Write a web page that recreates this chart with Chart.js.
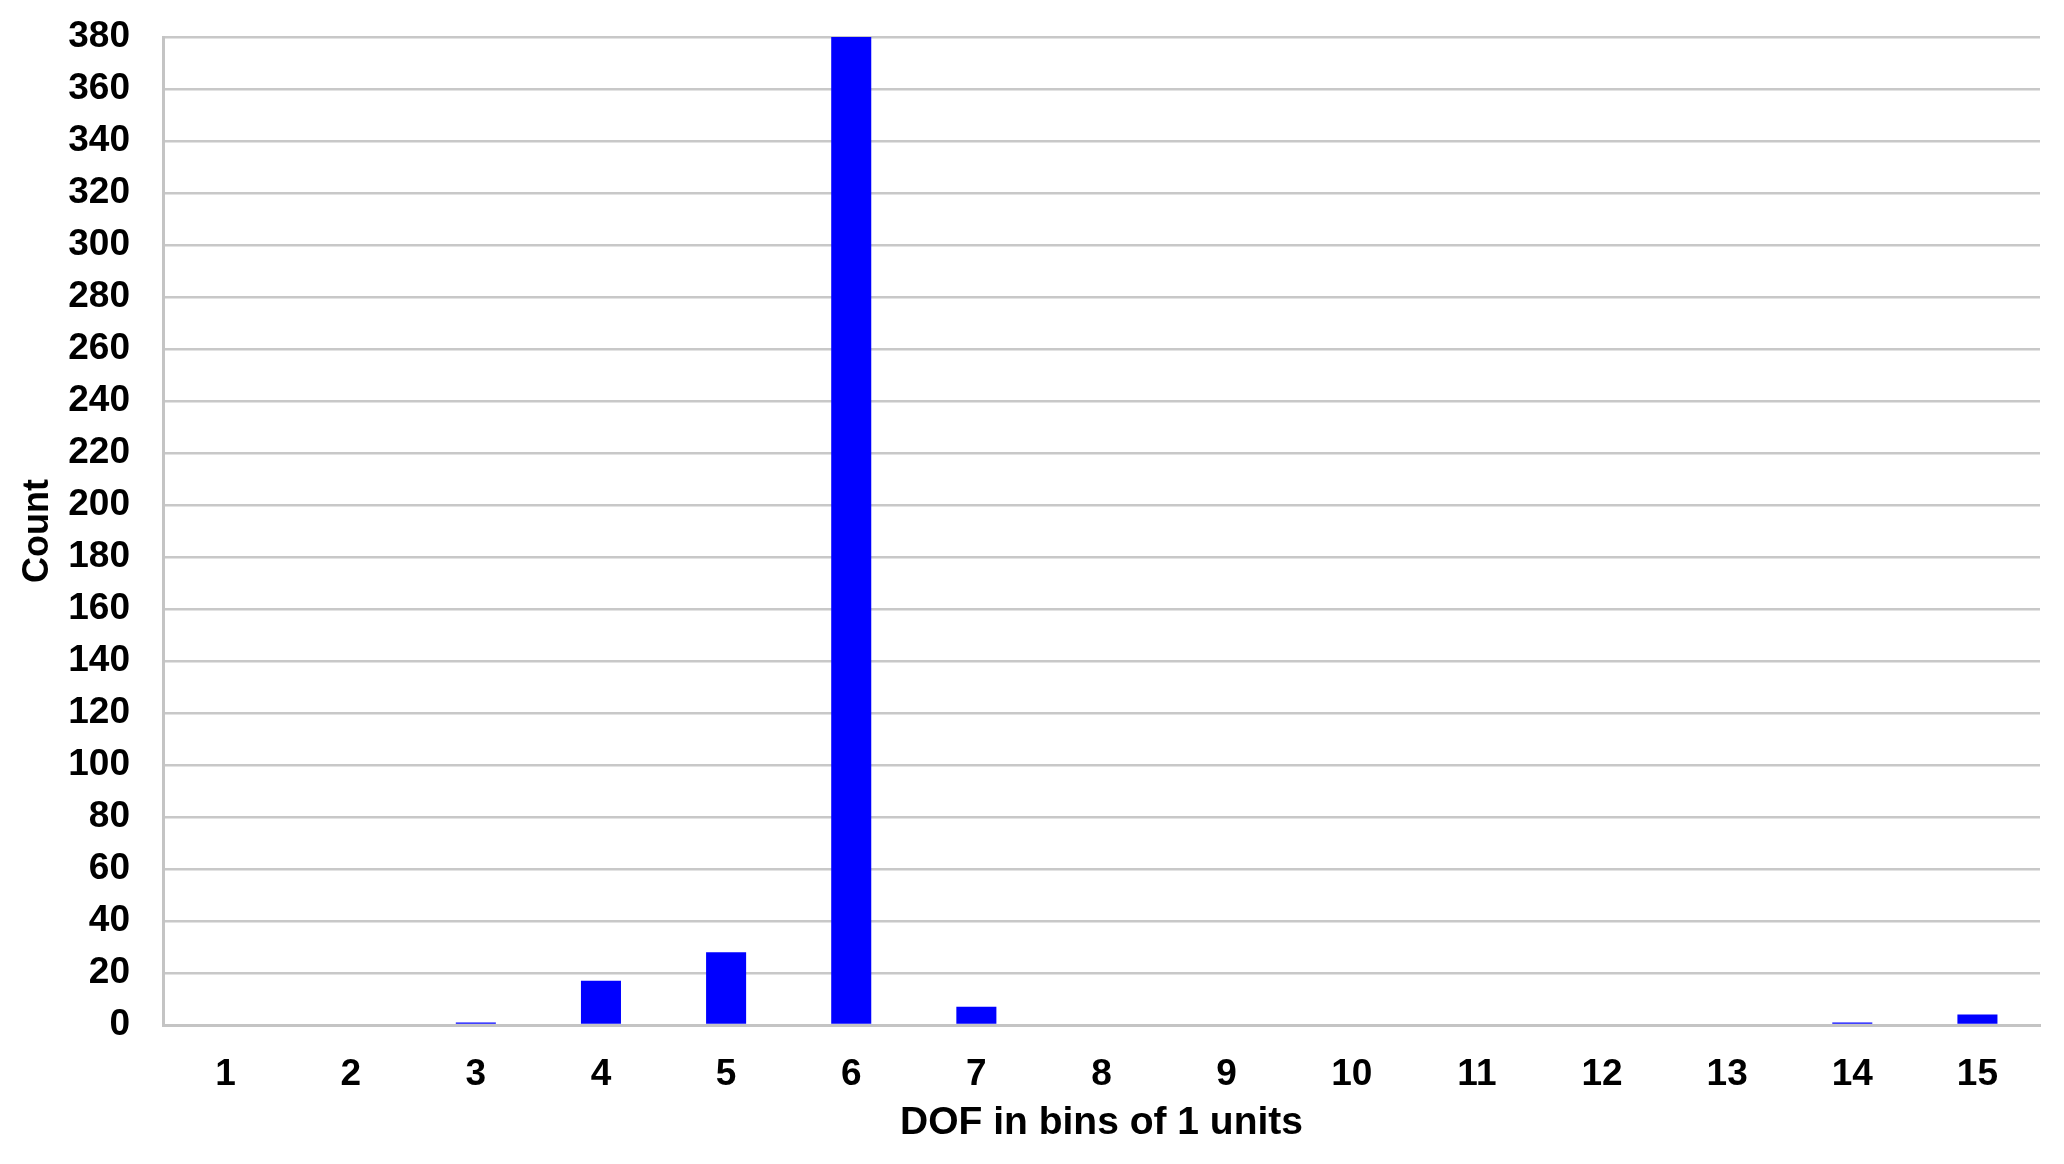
<!DOCTYPE html>
<html>
<head>
<meta charset="utf-8">
<script src="https://cdn.jsdelivr.net/npm/chart.js@4/dist/chart.umd.min.js"></script>
<style>
html,body{margin:0;padding:0;background:#fff;}
#wrap{width:2064px;height:1164px;position:relative;}
</style>
</head>
<body>
<div id="wrap"><canvas id="c" width="2064" height="1164"></canvas></div>
<script>
const categories = ["1","2","3","4","5","6","7","8","9","10","11","12","13","14","15"];
const counts = [0, 0, 1, 17, 28, 380, 7, 0, 0, 0, 0, 0, 0, 1, 4];
const yTitle = "Count";
const xTitle = "DOF in bins of 1 units";
const yMax = 380;
const yStep = 20;

const FONT = "'Liberation Sans', Arial, sans-serif";
const ctx = document.getElementById('c').getContext('2d');
new Chart(ctx, {
  type: 'bar',
  data: {
    labels: categories,
    datasets: [{
      data: counts,
      backgroundColor: '#0000ff',
      borderWidth: 0,
      barPercentage: 0.32,
      categoryPercentage: 1.0
    }]
  },
  options: {
    responsive: false,
    animation: false,
    devicePixelRatio: 1,
    layout: { padding: { left: 0, right: 24, top: 37, bottom: 0 } },
    plugins: { legend: { display: false }, tooltip: { enabled: false } },
    scales: {
      x: {
        grid: { display: false, drawTicks: false },
        border: { display: true, color: '#c4c4c4', width: 3 },
        ticks: { color: '#000', font: { family: FONT, size: 37, weight: 'bold' }, padding: 28, maxRotation: 0, autoSkip: false },
        title: { display: true, text: xTitle, color: '#000', font: { family: FONT, size: 39, weight: 'bold' }, padding: { top: 4, bottom: 17 } },
        afterFit: (s) => { s.height = 139; s.paddingLeft = 0; s.paddingRight = 0; }
      },
      y: {
        min: 0, max: yMax,
        grid: { color: '#c8c8c8', lineWidth: 2.5, drawTicks: false },
        border: { display: true, color: '#c4c4c4', width: 3 },
        ticks: { stepSize: yStep, color: '#000', font: { family: FONT, size: 37, weight: 'bold' }, padding: 33 },
        title: { display: true, text: yTitle, color: '#000', font: { family: FONT, size: 36, weight: 'bold' }, padding: { top: 16, bottom: 0 } },
        afterFit: (s) => { s.width = 163; s.paddingTop = 0; s.paddingBottom = 0; }
      }
    }
  }
});
</script>
</body>
</html>
